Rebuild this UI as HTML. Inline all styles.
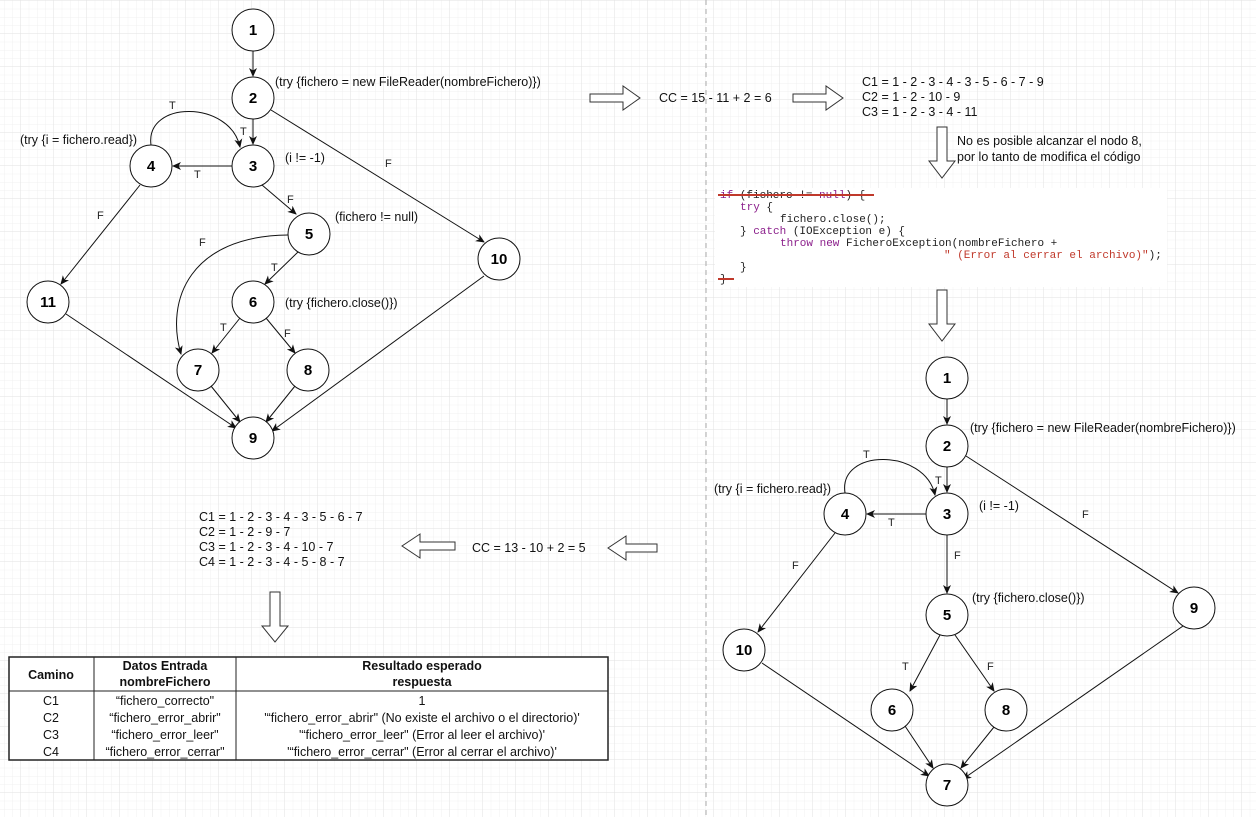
<!DOCTYPE html>
<html><head><meta charset="utf-8"><style>
html,body{margin:0;padding:0;background:#fff}
svg{display:block}
text{font-family:"Liberation Sans",sans-serif}
.n{font-weight:bold;font-size:15px;text-anchor:middle}
.t{font-size:12.5px;fill:#111}
.e{font-size:11px;fill:#222}
.code text{font-family:"Liberation Mono",monospace;font-size:11px;fill:#222}
.code .kw{fill:#8b1f8b}
.code .str{fill:#c0392b}
</style></head><body>
<svg width="1256" height="817" viewBox="0 0 1256 817" xmlns="http://www.w3.org/2000/svg">
<defs>
<pattern id="minor" width="8.25" height="8.25" patternUnits="userSpaceOnUse"><path d="M8.25 0V8.25H0" fill="none" stroke="#f1f1f1" stroke-width="1"/></pattern>
<pattern id="major" width="33" height="33" patternUnits="userSpaceOnUse" x="-12" y="1"><rect width="33" height="33" fill="url(#minor)"/><path d="M33 0V33H0" fill="none" stroke="#e2e2e2" stroke-width="1"/></pattern>
<marker id="a" markerWidth="10" markerHeight="10" refX="8" refY="4" orient="auto" markerUnits="userSpaceOnUse"><path d="M0,0 L9,4 L0,8 L2.5,4 z" fill="#111"/></marker>
</defs>
<rect width="1256" height="817" fill="url(#major)"/>
<line x1="706" y1="0" x2="706" y2="817" stroke="#aaa" stroke-dasharray="5,4"/>

<g stroke="#111" stroke-width="1" fill="none" marker-end="url(#a)">
<line x1="253" y1="51" x2="253" y2="76"/>
<line x1="253" y1="119" x2="253" y2="144"/>
<line x1="232" y1="166" x2="173" y2="166"/>
<path d="M151,145 C145,100 230,100 240,147"/>
<line x1="271" y1="110" x2="484" y2="242"/>
<line x1="262" y1="185" x2="296" y2="214"/>
<line x1="298" y1="252" x2="265" y2="284"/>
<path d="M288,235 C190,236 165,300 181,354"/>
<line x1="240" y1="318" x2="212" y2="353"/>
<line x1="266" y1="318" x2="295" y2="353"/>
<line x1="211" y1="386" x2="240" y2="422"/>
<line x1="295" y1="386" x2="266" y2="422"/>
<line x1="140" y1="185" x2="61" y2="284"/>
<line x1="66" y1="314" x2="236" y2="428"/>
<line x1="484" y1="276" x2="272" y2="431"/>
<line x1="947" y1="399" x2="947" y2="424"/>
<line x1="947" y1="467" x2="947" y2="492"/>
<line x1="926" y1="514" x2="867" y2="514"/>
<path d="M845,493 C838,448 925,448 935,495"/>
<line x1="966" y1="456" x2="1178" y2="593"/>
<line x1="947" y1="535" x2="947" y2="593"/>
<line x1="940" y1="635" x2="910" y2="691"/>
<line x1="955" y1="635" x2="994" y2="691"/>
<line x1="905" y1="726" x2="933" y2="768"/>
<line x1="994" y1="727" x2="961" y2="768"/>
<line x1="835" y1="533" x2="758" y2="632"/>
<line x1="762" y1="663" x2="929" y2="776"/>
<line x1="1183" y1="626" x2="963" y2="779"/>
</g>

<g fill="#fff" stroke="#111" stroke-width="1">
<circle cx="253" cy="30" r="21"/><circle cx="253" cy="98" r="21"/><circle cx="253" cy="166" r="21"/>
<circle cx="151" cy="166" r="21"/><circle cx="309" cy="234" r="21"/><circle cx="253" cy="302" r="21"/>
<circle cx="198" cy="370" r="21"/><circle cx="308" cy="370" r="21"/><circle cx="253" cy="438" r="21"/>
<circle cx="499" cy="259" r="21"/><circle cx="48" cy="302" r="21"/>
<circle cx="947" cy="378" r="21"/><circle cx="947" cy="446" r="21"/><circle cx="947" cy="514" r="21"/>
<circle cx="845" cy="514" r="21"/><circle cx="947" cy="615" r="21"/><circle cx="892" cy="710" r="21"/>
<circle cx="947" cy="785" r="21"/><circle cx="1006" cy="710" r="21"/><circle cx="1194" cy="608" r="21"/>
<circle cx="744" cy="650" r="21"/>
</g>
<g class="n">
<text x="253" y="35">1</text><text x="253" y="103">2</text><text x="253" y="171">3</text>
<text x="151" y="171">4</text><text x="309" y="239">5</text><text x="253" y="307">6</text>
<text x="198" y="375">7</text><text x="308" y="375">8</text><text x="253" y="443">9</text>
<text x="499" y="264">10</text><text x="48" y="307">11</text>
<text x="947" y="383">1</text><text x="947" y="451">2</text><text x="947" y="519">3</text>
<text x="845" y="519">4</text><text x="947" y="620">5</text><text x="892" y="715">6</text>
<text x="947" y="790">7</text><text x="1006" y="715">8</text><text x="1194" y="613">9</text>
<text x="744" y="655">10</text>
</g>
<g class="e">
<text x="169" y="109">T</text><text x="240" y="135">T</text><text x="194" y="178">T</text>
<text x="385" y="167">F</text><text x="287" y="203">F</text><text x="271" y="271">T</text>
<text x="199" y="246">F</text><text x="220" y="331">T</text><text x="284" y="337">F</text><text x="97" y="219">F</text>
<text x="863" y="458">T</text><text x="935" y="484">T</text><text x="888" y="526">T</text>
<text x="1082" y="518">F</text><text x="954" y="559">F</text><text x="902" y="670">T</text>
<text x="987" y="670">F</text><text x="792" y="569">F</text>
</g>
<g class="t">
<text x="275" y="86">(try {fichero = new FileReader(nombreFichero)})</text>
<text x="20" y="144">(try {i = fichero.read})</text>
<text x="285" y="162">(i != -1)</text>
<text x="335" y="221">(fichero != null)</text>
<text x="285" y="307">(try {fichero.close()})</text>
<text x="970" y="432">(try {fichero = new FileReader(nombreFichero)})</text>
<text x="714" y="493">(try {i = fichero.read})</text>
<text x="979" y="510">(i != -1)</text>
<text x="972" y="602">(try {fichero.close()})</text>
<text x="659" y="102">CC = 15 - 11 + 2 = 6</text>
<text x="862" y="86">C1 = 1 - 2 - 3 - 4 - 3 - 5 - 6 - 7 - 9</text>
<text x="862" y="101">C2 = 1 - 2 - 10 - 9</text>
<text x="862" y="116">C3 = 1 - 2 - 3 - 4 - 11</text>
<text x="957" y="145">No es posible alcanzar el nodo 8,</text>
<text x="957" y="161">por lo tanto de modifica el código</text>
<text x="472" y="552">CC = 13 - 10 + 2 = 5</text>
<text x="199" y="521">C1 = 1 - 2 - 3 - 4 - 3 - 5 - 6 - 7</text>
<text x="199" y="536">C2 = 1 - 2 - 9 - 7</text>
<text x="199" y="551">C3 = 1 - 2 - 3 - 4 - 10 - 7</text>
<text x="199" y="566">C4 = 1 - 2 - 3 - 4 - 5 - 8 - 7</text>
</g>

<g fill="#fff" stroke="#333" stroke-width="1">
<path d="M590,94 H623 V86 L640,98 L623,110 V102 H590 Z"/>
<path d="M793,94 H826 V86 L843,98 L826,110 V102 H793 Z"/>
<path d="M937,127 V161 H929 L942,178 L955,161 H947 V127 Z"/>
<path d="M937,290 V324 H929 L942,341 L955,324 H947 V290 Z"/>
<path d="M455,542 H420 V534 L402,546 L420,558 V550 H455 Z"/>
<path d="M657,544 H626 V536 L608,548 L626,560 V552 H657 Z"/>
<path d="M270,592 V626 H262 L275,642 L288,626 H280 V592 Z"/>
</g>

<rect x="715" y="188" width="452" height="99" fill="#fff"/>
<g class="code">
<text x="720" y="198" xml:space="preserve"><tspan class="kw">if</tspan> (fichero != <tspan class="kw">null</tspan>) {</text>
<text x="740" y="210"><tspan class="kw">try</tspan> {</text>
<text x="780" y="222">fichero.close();</text>
<text x="740" y="234" xml:space="preserve">} <tspan class="kw">catch</tspan> (IOException e) {</text>
<text x="780" y="246" xml:space="preserve"><tspan class="kw">throw new</tspan> FicheroException(nombreFichero +</text>
<text x="944" y="258"><tspan class="str">" (Error al cerrar el archivo)"</tspan>);</text>
<text x="740" y="270">}</text>
<text x="720" y="282">}</text>
</g>
<line x1="718" y1="195" x2="874" y2="195" stroke="#c0392b" stroke-width="2"/>
<line x1="718" y1="279" x2="734" y2="279" stroke="#c0392b" stroke-width="2"/>

<rect x="9" y="657" width="599" height="103" fill="#fff" stroke="#222" stroke-width="1.5"/>
<g stroke="#222" stroke-width="1">
<line x1="94" y1="657" x2="94" y2="760"/>
<line x1="236" y1="657" x2="236" y2="760"/>
<line x1="9" y1="691" x2="608" y2="691"/>
</g>
<g font-size="12.5" text-anchor="middle" fill="#111">
<text x="51" y="679" font-weight="bold">Camino</text>
<text x="165" y="670" font-weight="bold">Datos Entrada</text>
<text x="165" y="686" font-weight="bold">nombreFichero</text>
<text x="422" y="670" font-weight="bold">Resultado esperado</text>
<text x="422" y="686" font-weight="bold">respuesta</text>
<text x="51" y="705">C1</text><text x="165" y="705">“fichero_correcto"</text><text x="422" y="705">1</text>
<text x="51" y="722">C2</text><text x="165" y="722">“fichero_error_abrir"</text><text x="422" y="722">'“fichero_error_abrir" (No existe el archivo o el directorio)'</text>
<text x="51" y="739">C3</text><text x="165" y="739">“fichero_error_leer"</text><text x="422" y="739">'“fichero_error_leer" (Error al leer el archivo)'</text>
<text x="51" y="756">C4</text><text x="165" y="756">“fichero_error_cerrar"</text><text x="422" y="756">'“fichero_error_cerrar" (Error al cerrar el archivo)'</text>
</g>
</svg>
</body></html>
